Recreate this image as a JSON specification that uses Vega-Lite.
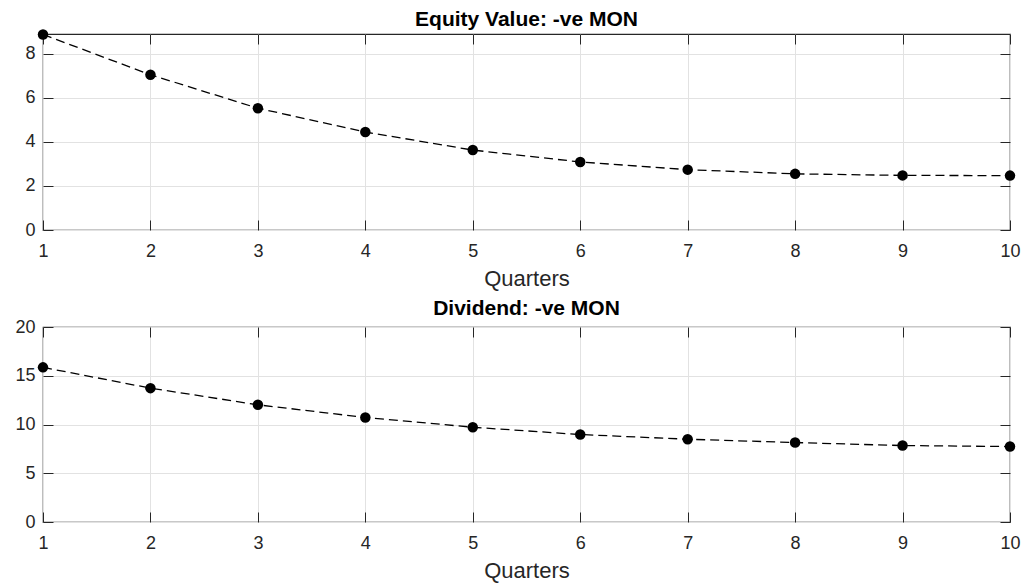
{
  "$schema": "https://vega.github.io/schema/vega-lite/v6.json",
  "padding": {"left": 14, "top": 8, "right": 10, "bottom": 2},
  "bounds": "flush",
  "spacing": 97,
  "config": {
    "font": "Liberation Sans",
    "background": "white",
    "view": {"stroke": "#262626", "strokeWidth": 1.2},
    "axis": {
      "domain": false,
      "grid": true,
      "gridColor": "#e2e2e2",
      "gridWidth": 1,
      "tickColor": "#262626",
      "tickSize": -10,
      "tickWidth": 1,
      "labelColor": "#262626",
      "labelFont": "Liberation Sans",
      "labelFontSize": 18,
      "labelFlush": false,
      "titleFont": "Liberation Sans",
      "titleFontSize": 22,
      "titleFontWeight": "normal",
      "titleColor": "#262626"
    },
    "title": {"font": "Liberation Sans", "fontSize": 21, "fontWeight": "bold", "color": "#000000", "baseline": "alphabetic", "offset": -1}
  },
  "datasets": {
    "equity": [
      {"quarter": 1, "value": 8.88},
      {"quarter": 2, "value": 7.05},
      {"quarter": 3, "value": 5.53},
      {"quarter": 4, "value": 4.45},
      {"quarter": 5, "value": 3.63},
      {"quarter": 6, "value": 3.09},
      {"quarter": 7, "value": 2.74},
      {"quarter": 8, "value": 2.55},
      {"quarter": 9, "value": 2.48},
      {"quarter": 10, "value": 2.47}
    ],
    "dividend": [
      {"quarter": 1, "value": 15.86},
      {"quarter": 2, "value": 13.73},
      {"quarter": 3, "value": 12.02},
      {"quarter": 4, "value": 10.72},
      {"quarter": 5, "value": 9.72},
      {"quarter": 6, "value": 8.97},
      {"quarter": 7, "value": 8.49},
      {"quarter": 8, "value": 8.15},
      {"quarter": 9, "value": 7.84},
      {"quarter": 10, "value": 7.74}
    ]
  },
  "vconcat": [
    {
      "width": 967,
      "height": 196,
      "title": {"text": "Equity Value: -ve MON"},
      "data": {"name": "equity"},
      "resolve": {"axis": {"x": "independent", "y": "independent"}},
      "layer": [
        {
          "mark": {"type": "line", "color": "#000000", "strokeDash": [9, 5], "strokeWidth": 1.3},
          "encoding": {
            "x": {"field": "quarter", "type": "quantitative", "scale": {"domain": [1, 10], "nice": false, "zero": false},
                  "axis": {"orient": "bottom", "title": "Quarters", "values": [1, 2, 3, 4, 5, 6, 7, 8, 9, 10], "labelPadding": 22, "titlePadding": 8}},
            "y": {"field": "value", "type": "quantitative", "scale": {"domain": [0, 8.9], "nice": false},
                  "axis": {"orient": "left", "title": null, "values": [0, 2, 4, 6, 8], "labelPadding": 18}}
          }
        },
        {
          "mark": {"type": "point", "filled": true, "color": "#000000", "size": 110, "opacity": 1},
          "encoding": {
            "x": {"field": "quarter", "type": "quantitative",
                  "axis": {"orient": "top", "labels": false, "title": null, "grid": false, "values": [1, 2, 3, 4, 5, 6, 7, 8, 9, 10]}},
            "y": {"field": "value", "type": "quantitative",
                  "axis": {"orient": "right", "labels": false, "title": null, "grid": false, "values": [0, 2, 4, 6, 8]}}
          }
        }
      ]
    },
    {
      "width": 967,
      "height": 195,
      "title": {"text": "Dividend: -ve MON"},
      "data": {"name": "dividend"},
      "resolve": {"axis": {"x": "independent", "y": "independent"}},
      "layer": [
        {
          "mark": {"type": "line", "color": "#000000", "strokeDash": [9, 5], "strokeWidth": 1.3},
          "encoding": {
            "x": {"field": "quarter", "type": "quantitative", "scale": {"domain": [1, 10], "nice": false, "zero": false},
                  "axis": {"orient": "bottom", "title": "Quarters", "values": [1, 2, 3, 4, 5, 6, 7, 8, 9, 10], "labelPadding": 22, "titlePadding": 8}},
            "y": {"field": "value", "type": "quantitative", "scale": {"domain": [0, 20], "nice": false},
                  "axis": {"orient": "left", "title": null, "values": [0, 5, 10, 15, 20], "labelPadding": 18}}
          }
        },
        {
          "mark": {"type": "point", "filled": true, "color": "#000000", "size": 110, "opacity": 1},
          "encoding": {
            "x": {"field": "quarter", "type": "quantitative",
                  "axis": {"orient": "top", "labels": false, "title": null, "grid": false, "values": [1, 2, 3, 4, 5, 6, 7, 8, 9, 10]}},
            "y": {"field": "value", "type": "quantitative",
                  "axis": {"orient": "right", "labels": false, "title": null, "grid": false, "values": [0, 5, 10, 15, 20]}}
          }
        }
      ]
    }
  ]
}
